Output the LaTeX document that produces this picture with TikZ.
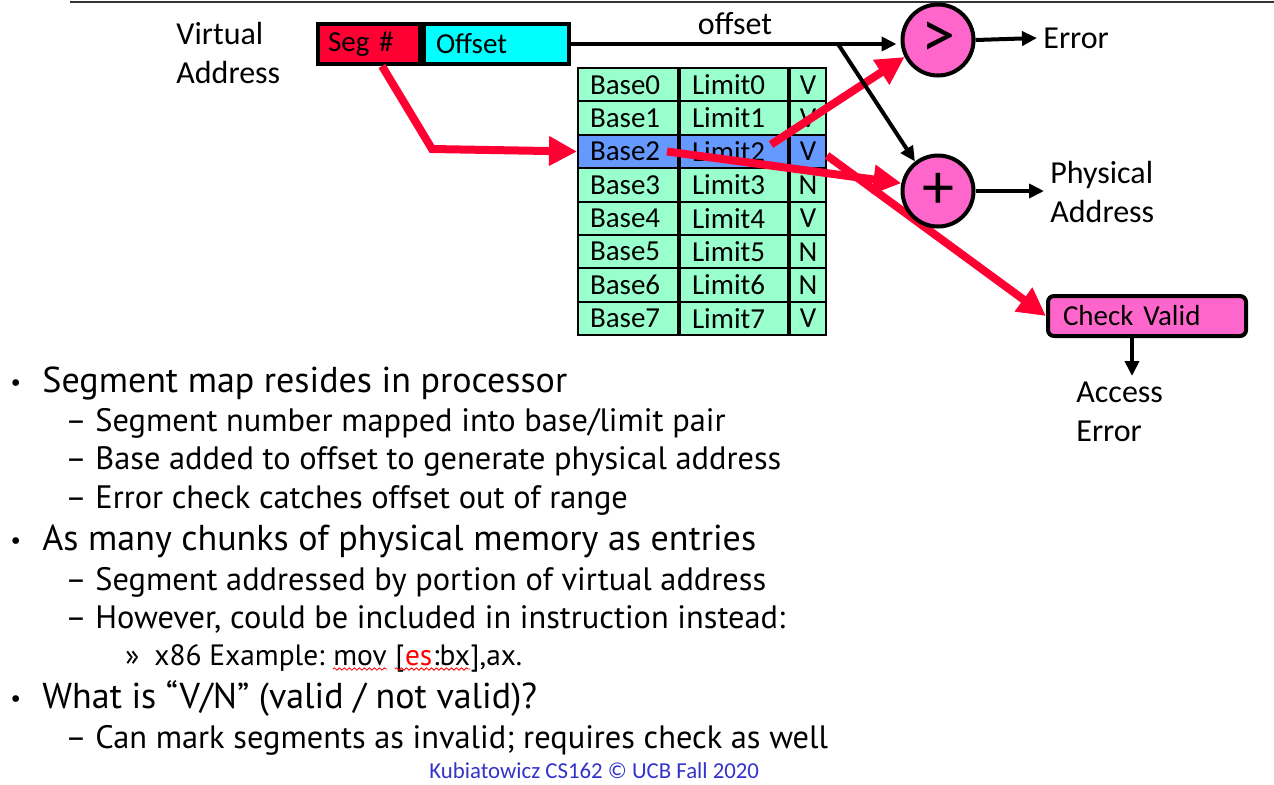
\documentclass[tikz,border=0pt]{standalone}
\usepackage{fontspec}
\setmainfont{Carlito}
\newfontfamily\slidefont{PT Sans}
\usetikzlibrary{positioning,arrows.meta,decorations.pathmorphing}

\definecolor{segred}{RGB}{255,0,51}
\definecolor{offcyan}{RGB}{0,255,255}
\definecolor{mint}{RGB}{153,255,204}
\definecolor{selblue}{RGB}{102,153,255}
\definecolor{opink}{RGB}{255,102,204}
\definecolor{footblue}{RGB}{51,51,204}

\tikzset{
  cell/.style={draw, line width=1pt, minimum height=16.7pt, inner xsep=6pt, inner ysep=0pt,
    font=\fontsize{14.5}{16}\selectfont},
  op/.style={circle, draw, line width=2pt, fill=opink, minimum size=35.5pt, inner sep=0pt,
    font=\fontsize{34}{34}\selectfont},
  blk/.style={-{Triangle[length=7.5pt,width=7pt]}, line width=2pt},
  redarr/.style={-{Triangle[length=14pt,width=14pt]}, line width=4pt, draw=segred},
  lbl/.style={font=\fontsize{16}{19.5}\selectfont, align=left, inner sep=3pt},
  lone/.style={font=\slidefont\fontsize{18}{20}\selectfont, inner sep=0pt, anchor=base west},
  ltwo/.style={font=\slidefont\fontsize{16.2}{18}\selectfont, inner sep=0pt, anchor=base west},
  lthree/.style={font=\slidefont\fontsize{14.7}{16}\selectfont, inner sep=0pt},
  dotmark/.style={font=\slidefont\fontsize{12}{14}\selectfont, inner sep=0pt, anchor=base west},
  spell/.style={draw=red, line width=0.4pt, decorate, decoration={snake, amplitude=0.6pt, segment length=2.5pt}}
}

\begin{document}
\begin{tikzpicture}[x=0.5pt,y=-0.5pt]
\useasboundingbox (0,0) rectangle (1274,784);

% slide rule
\draw[line width=1pt, black!80] (70,1.5) -- (1274,1.5);

% virtual address
\node[lbl, anchor=north west] (va) at (170,16) {Virtual\\Address};
\node[draw, line width=2pt, fill=segred, text width=41pt, inner xsep=5pt, minimum height=20pt,
  font=\fontsize{14.5}{16}\selectfont, anchor=west] (seg) at (316,44) {Seg \#};
\node[draw, line width=2pt, fill=offcyan, text width=60.5pt, inner xsep=6pt, minimum height=20pt,
  font=\fontsize{14.5}{16}\selectfont, right=0pt of seg] (offset) {Offset};

% segment table
\foreach \i/\v/\c in {0/V/mint,1/V/mint,2/V/selblue,3/N/mint,4/V/mint,5/N/mint,6/N/mint,7/V/mint} {
  \node[cell, fill=\c, text width=38pt, anchor=north west] (base\i) at (577,{67+33.4*\i}) {Base\i};
  \node[cell, fill=\c, text width=42pt, right=0pt of base\i] (lim\i) {Limit\i};
  \node[cell, fill=\c, text width=12pt, inner xsep=3pt, align=center, right=0pt of lim\i] (v\i) {\v};
}

% check box and outputs
\node[draw, line width=2pt, fill=opink, rounded corners=3pt, text width=84pt, inner xsep=7.5pt,
  minimum height=20pt, font=\fontsize{14.5}{16}\selectfont] (chk) at (1147,316) {Check Valid};
\node[lbl, anchor=north west] (acc) at (1070,376) {Access\\Error};
\node[lbl, anchor=west] (err) at (1037,38) {Error};
\node[lbl, anchor=north west] (phys) at (1044,155) {Physical\\Address};
\node[lbl] (offlbl) at (735,24) {offset};

\coordinate (bend) at (432,149);
\draw[redarr] ([xshift=6.5pt]seg.south) -- (bend) -- (base2.west);
\draw[redarr] ([yshift=-2pt]v2.east) -- (chk.west);

% comparator and adder
\node[op] (gt) at (938,40) {>};
\node[op, font=\fontsize{32}{32}\selectfont] (plus) at (938,191) {+};

\draw[redarr] ([shift={(18.5pt,3.5pt)}]lim2.center) -- (gt.207);
\draw[redarr] ([xshift=-6pt]base2.east) -- (plus.168);

\coordinate (br) at (838,44);
\draw[blk, shorten >=2pt] (offset.east) -- (gt.west |- offset.east);
\draw[blk] (br) -- (plus.128);
\draw[blk] (gt.east) -- (err.west);
\draw[blk] (plus.east) -- (plus.east -| phys.west);
\draw[blk] ([xshift=-7.5pt]chk.south) -- ([xshift=-7.5pt]chk.south |- acc.north);

% bullet text
\node[dotmark] (d1) at (10,390) {•};
\node[lone] (t1) at (42,392) {Segment map resides in processor};
\node[ltwo] (h2) at (65,431) {–};
\node[ltwo] (t2) at (95,431) {Segment number mapped into base/limit pair};
\node[ltwo] (h3) at (65,469) {–};
\node[ltwo] (t3) at (95,469) {Base added to offset to generate physical address};
\node[ltwo] (h4) at (65,508) {–};
\node[ltwo] (t4) at (95,508) {Error check catches offset out of range};
\node[dotmark] (d5) at (10,548) {•};
\node[lone] (t5) at (42,550) {As many chunks of physical memory as entries};
\node[ltwo] (h6) at (65,590) {–};
\node[ltwo] (t6) at (95,590) {Segment addressed by portion of virtual address};
\node[ltwo] (h7) at (65,628) {–};
\node[ltwo] (t7) at (95,628) {However, could be included in instruction instead:};
\node[lthree, anchor=base west] (r8) at (125,665) {»};
\node[lthree, anchor=base west] (ex) at (154,665) {x86 Example:};
\node[lthree, base right=3.9pt of ex] (mov) {mov};
\node[lthree, base right=3.9pt of mov] (brk) {[};
\node[lthree, base right=0pt of brk, text=red] (es) {es};
\node[lthree, base right=0pt of es] (bx) {:bx};
\node[lthree, base right=0pt of bx] (tail) {],ax.};
\draw[spell] ([yshift=-2pt]mov.base west) -- ([yshift=-2pt]mov.base east);
\draw[spell] ([yshift=-2pt]brk.base west) -- ([yshift=-2pt]bx.base east);
\node[dotmark] (d9) at (10,706) {•};
\node[lone] (t9) at (42,708) {What is “V/N” (valid / not valid)?};
\node[ltwo] (h10) at (65,748) {–};
\node[ltwo] (t10) at (95,748) {Can mark segments as invalid; requires check as well};

\node[font=\fontsize{11.4}{13}\selectfont, text=footblue, inner sep=0pt, anchor=base west] (foot) at (429,778)
  {Kubiatowicz CS162 © UCB Fall 2020};
\end{tikzpicture}
\end{document}
